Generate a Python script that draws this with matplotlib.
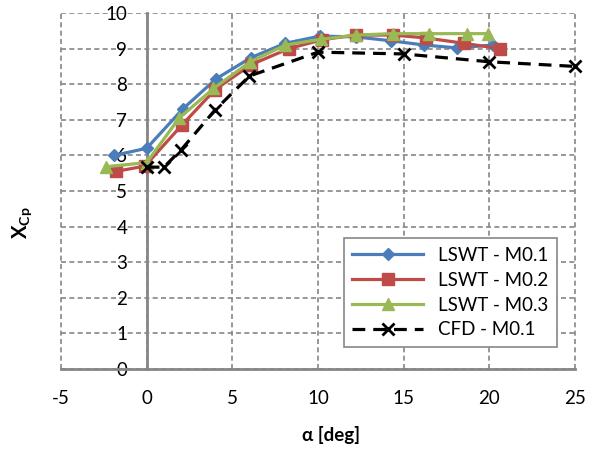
import matplotlib
matplotlib.use('Agg')
import matplotlib.pyplot as plt

# angle of attack [deg] and centre of pressure values
alpha_m01 = [-1.9, 0.0, 2.1, 4.05, 6.1, 8.1, 10.1, 12.2, 14.25, 16.2, 18.1, 20.2]
xcp_m01 = [6.0, 6.2, 7.3, 8.15, 8.75, 9.15, 9.35, 9.33, 9.22, 9.1, 9.02, 9.1]

alpha_m02 = [-1.8, -0.1, 2.05, 4.0, 6.1, 8.3, 10.25, 12.2, 14.35, 16.3, 18.5, 20.6]
xcp_m02 = [5.55, 5.7, 6.85, 7.85, 8.55, 9.0, 9.25, 9.38, 9.38, 9.3, 9.15, 9.0]

alpha_m03 = [-2.35, 0.0, 1.9, 3.9, 6.05, 8.1, 10.15, 12.2, 14.35, 16.5, 18.7, 19.9]
xcp_m03 = [5.68, 5.8, 7.05, 7.88, 8.63, 9.1, 9.26, 9.38, 9.42, 9.42, 9.42, 9.42]

alpha_cfd = [0, 1, 2, 4, 6, 10, 15, 20, 25]
xcp_cfd = [5.67, 5.67, 6.15, 7.28, 8.23, 8.9, 8.85, 8.63, 8.5]

labels = ['LSWT - M0.1', 'LSWT - M0.2', 'LSWT - M0.3', 'CFD - M0.1']

plt.rcParams['font.family'] = ['Lato', 'DejaVu Sans']
plt.rcParams['axes.unicode_minus'] = False
plt.rcParams['mathtext.fontset'] = 'custom'
plt.rcParams['mathtext.rm'] = 'Lato'
plt.rcParams['mathtext.bf'] = 'Lato:bold'

axis_grey = '#868686'

fig = plt.figure(figsize=(5.97, 4.54), dpi=100)
ax = fig.add_axes([61/597, 1-369/454, 514/597, 356/454])

ax.plot(alpha_m01, xcp_m01, color='#4A7EBB', lw=2.3, marker='D', ms=6,
        label=labels[0], zorder=4)
ax.plot(alpha_m02, xcp_m02, color='#BE4B48', lw=2.3, marker='s', ms=8,
        label=labels[1], zorder=4)
ax.plot(alpha_m03, xcp_m03, color='#98B954', lw=2.3, marker='^', ms=9,
        label=labels[2], zorder=4)
ax.plot(alpha_cfd, xcp_cfd, color='black', lw=2.3, ls=(0, (4, 2.5)), marker='x',
        ms=8, mew=2, label=labels[3], zorder=5, clip_on=False)

ax.set_xlim(-5, 25)
ax.set_ylim(0, 10)
ax.set_xticks(range(-5, 26, 5))
ax.set_yticks(range(0, 11))

ax.grid(True, color=axis_grey, ls=(0, (3, 2)), lw=1.2)
for gl in ax.get_xgridlines() + ax.get_ygridlines():
    gl.set_clip_on(False)
ax.set_axisbelow(True)

ax.spines['top'].set_visible(False)
ax.spines['right'].set_visible(False)
ax.spines['left'].set_position(('data', 0))
ax.spines['left'].set_color(axis_grey)
ax.spines['bottom'].set_color(axis_grey)
ax.spines['left'].set_linewidth(2)
ax.spines['bottom'].set_linewidth(2)
ax.spines['left'].set_zorder(3)

ax.tick_params(axis='both', length=0, labelsize=13.5, colors='black')
ax.tick_params(axis='x', pad=15)
ax.tick_params(axis='y', pad=14)

fig.text(331/597, 1-435/454, 'α [deg]', fontsize=13.5, fontweight='bold',
         ha='center', va='center')
fig.text(22/597, 1-223/454, r'$\mathbf{X_{Cp}}$', fontsize=14.5, rotation=90,
         ha='center', va='center')

leg = ax.legend(loc='lower right', bbox_to_anchor=(0.965, 0.062), borderaxespad=0,
                fontsize=13.5, handlelength=3.8, labelspacing=0.42, fancybox=False,
                framealpha=1, edgecolor=axis_grey, borderpad=0.45)
leg.get_frame().set_linewidth(1.2)

fig.savefig('out.png', dpi=100)
